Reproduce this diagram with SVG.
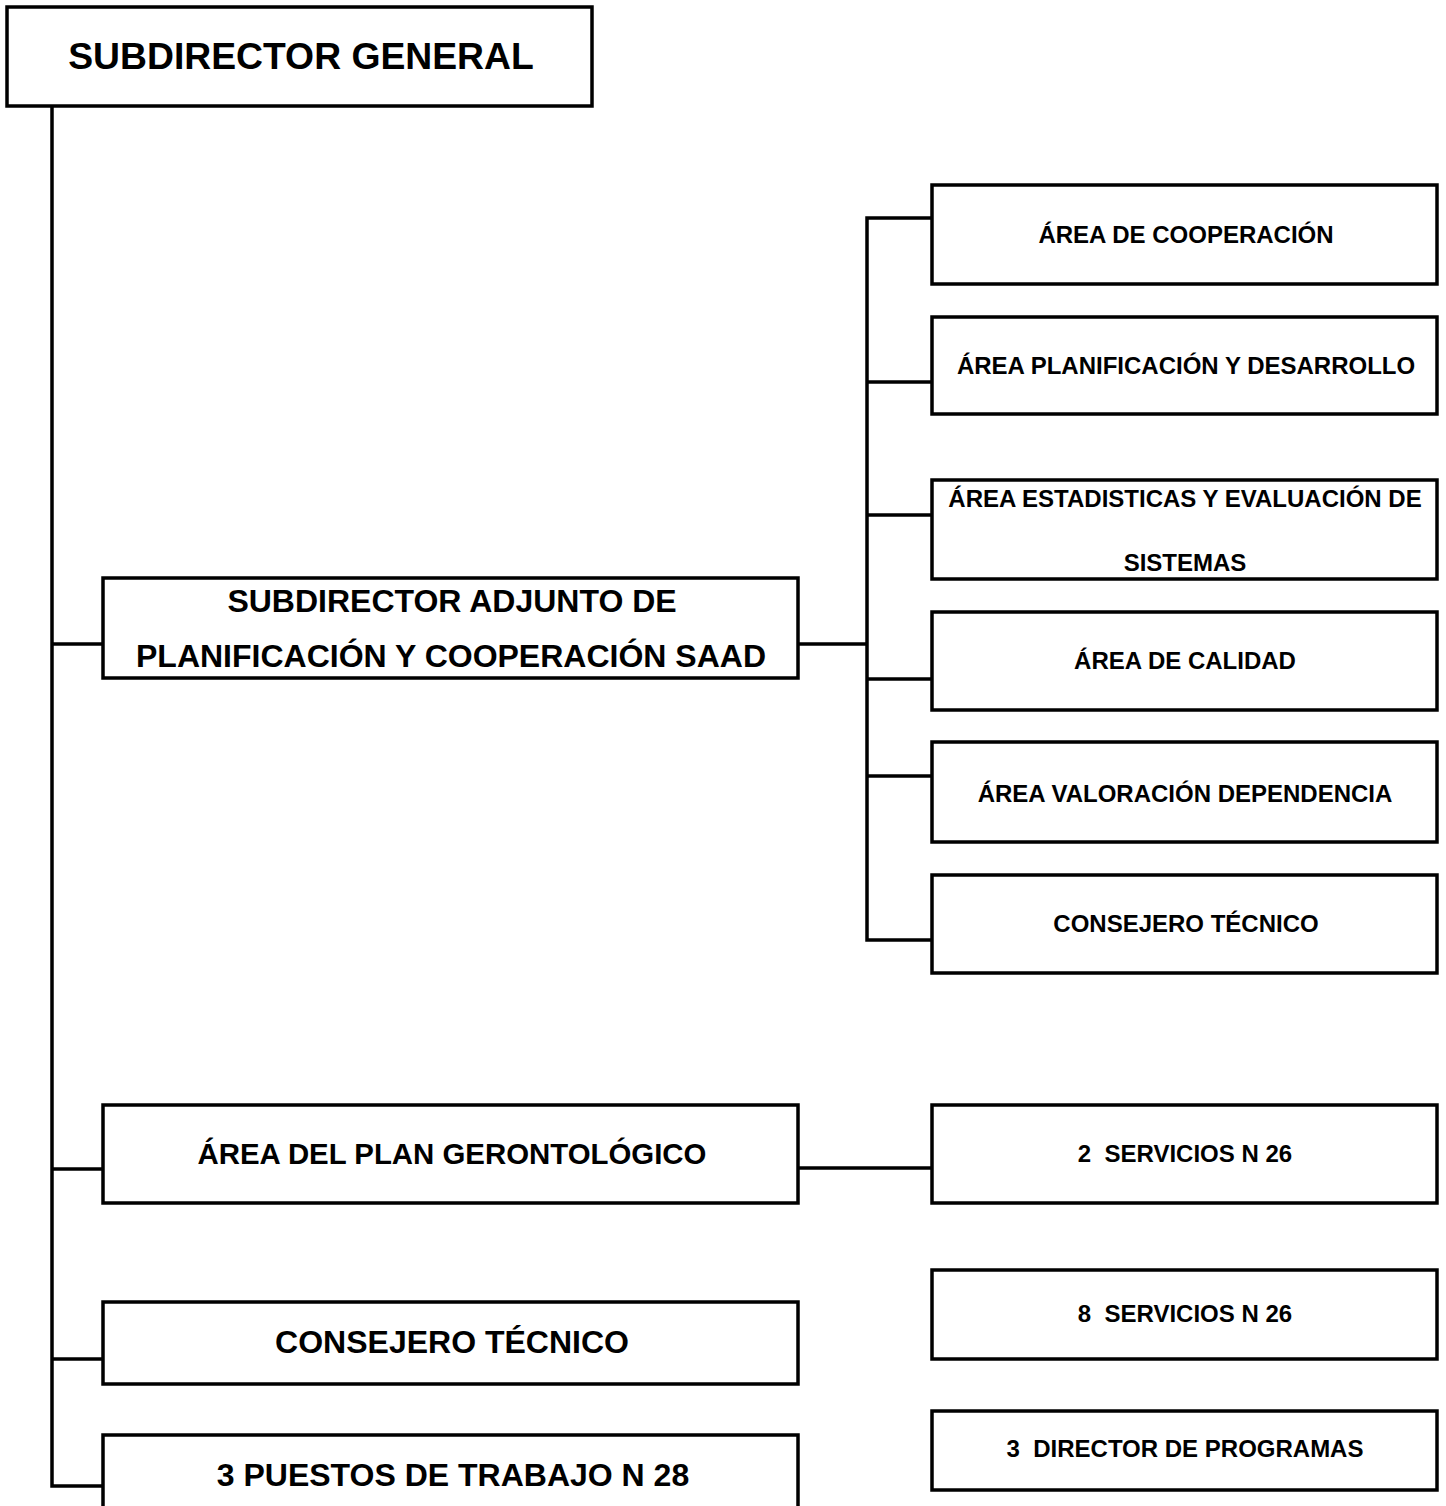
<svg xmlns="http://www.w3.org/2000/svg" width="1446" height="1506" viewBox="0 0 1446 1506">
<style>
.box{fill:#fff;stroke:#000;stroke-width:3.5}
.ln{fill:none;stroke:#000;stroke-width:3.5}
text{font-family:"Liberation Sans",Arial,sans-serif;font-weight:bold;fill:#000;text-anchor:middle;white-space:pre}
.xl{font-size:37.3px}
.l{font-size:32px}
.m{font-size:29.4px}
.s{font-size:24px}
</style>
<rect width="1446" height="1506" fill="#fff"/>
<g id="connectors">
<path class="ln" d="M52 106V1486H103"/>
<path class="ln" d="M52 644H103"/>
<path class="ln" d="M52 1169H103"/>
<path class="ln" d="M52 1359H103"/>
<path class="ln" d="M798 644H867"/>
<path class="ln" d="M932 218H867V940H932"/>
<path class="ln" d="M867 382H932"/>
<path class="ln" d="M867 515H932"/>
<path class="ln" d="M867 679H932"/>
<path class="ln" d="M867 776H932"/>
<path class="ln" d="M798 1168H932"/>
</g>
<g id="n-subdirector-general">
<rect class="box" x="7" y="7" width="585" height="99"/>
<text class="xl" x="301" y="69">SUBDIRECTOR GENERAL</text>
</g>
<g id="n-adjunto">
<rect class="box" x="103" y="578" width="695" height="100"/>
<text class="l" x="452" y="612">SUBDIRECTOR ADJUNTO DE</text>
<text class="l" x="451" y="667">PLANIFICACIÓN Y COOPERACIÓN SAAD</text>
</g>
<g id="n-area-cooperacion">
<rect class="box" x="932" y="185" width="505" height="99"/>
<text class="s" x="1186" y="243">ÁREA DE COOPERACIÓN</text>
</g>
<g id="n-area-planificacion">
<rect class="box" x="932" y="317" width="505" height="97"/>
<text class="s" x="1186" y="374">ÁREA PLANIFICACIÓN Y DESARROLLO</text>
</g>
<g id="n-area-estadisticas">
<rect class="box" x="932" y="480" width="505" height="99"/>
<text class="s" x="1185" y="507">ÁREA ESTADISTICAS Y EVALUACIÓN DE</text>
<text class="s" x="1185" y="571">SISTEMAS</text>
</g>
<g id="n-area-calidad">
<rect class="box" x="932" y="612" width="505" height="98"/>
<text class="s" x="1185" y="669">ÁREA DE CALIDAD</text>
</g>
<g id="n-area-valoracion">
<rect class="box" x="932" y="742" width="505" height="100"/>
<text class="s" x="1185" y="802">ÁREA VALORACIÓN DEPENDENCIA</text>
</g>
<g id="n-consejero-tecnico-1">
<rect class="box" x="932" y="875" width="505" height="98"/>
<text class="s" x="1186" y="932">CONSEJERO TÉCNICO</text>
</g>
<g id="n-area-plan-gerontologico">
<rect class="box" x="103" y="1105" width="695" height="98"/>
<text class="m" x="452" y="1164">ÁREA DEL PLAN GERONTOLÓGICO</text>
</g>
<g id="n-2-servicios">
<rect class="box" x="932" y="1105" width="505" height="98"/>
<text class="s" x="1185" y="1162">2  SERVICIOS N 26</text>
</g>
<g id="n-consejero-tecnico-2">
<rect class="box" x="103" y="1302" width="695" height="82"/>
<text class="l" x="452" y="1353">CONSEJERO TÉCNICO</text>
</g>
<g id="n-8-servicios">
<rect class="box" x="932" y="1270" width="505" height="89"/>
<text class="s" x="1185" y="1322">8  SERVICIOS N 26</text>
</g>
<g id="n-3-puestos">
<rect class="box" x="103" y="1435" width="695" height="90"/>
<text class="l" x="453" y="1486">3 PUESTOS DE TRABAJO N 28</text>
</g>
<g id="n-3-director">
<rect class="box" x="932" y="1411" width="505" height="79"/>
<text class="s" x="1185" y="1457">3  DIRECTOR DE PROGRAMAS</text>
</g>
</svg>
